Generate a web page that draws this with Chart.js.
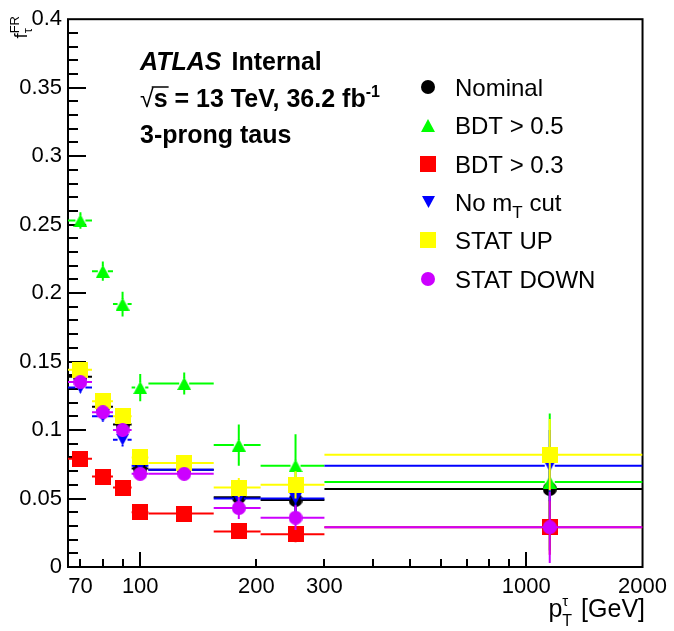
<!DOCTYPE html>
<html>
<head>
<meta charset="utf-8">
<script src="https://cdn.jsdelivr.net/npm/chart.js@4.4.1/dist/chart.umd.min.js"></script>
<style>
  html, body { margin: 0; padding: 0; background: #ffffff; }
  #wrap { width: 674px; height: 631px; }
</style>
</head>
<body>
<div id="wrap"><canvas id="c" width="674" height="631"></canvas></div>
<script>
// pT bins of the tau candidates [GeV]
const binLow  = [65, 75, 85, 95, 105, 155, 205, 300];
const binHigh = [75, 85, 95, 105, 155, 205, 300, 2000];

// fake-rate values and their statistical uncertainties per variation
const nominal     = [0.139, 0.117, 0.104, 0.072, 0.071, 0.051, 0.049, 0.057];
const nominalErr  = [0.004, 0.004, 0.005, 0.004, 0.004, 0.007, 0.010, 0.026];
const bdt05       = [0.253, 0.216, 0.192, 0.131, 0.134, 0.089, 0.074, 0.062];
const bdt05Err    = [0.006, 0.007, 0.009, 0.010, 0.008, 0.015, 0.023, 0.050];
const bdt03       = [0.079, 0.066, 0.058, 0.040, 0.039, 0.026, 0.024, 0.029];
const bdt03Err    = [0.003, 0.003, 0.004, 0.003, 0.003, 0.005, 0.006, 0.020];
const noMtCut     = [0.131, 0.110, 0.093, 0.074, 0.071, 0.050, 0.050, 0.074];
const noMtCutErr  = [0.004, 0.004, 0.005, 0.004, 0.004, 0.007, 0.010, 0.026];
const statUp      = [0.144, 0.121, 0.110, 0.080, 0.076, 0.058, 0.060, 0.082];
const statUpErr   = [0.004, 0.004, 0.005, 0.004, 0.004, 0.007, 0.010, 0.026];
const statDown    = [0.135, 0.113, 0.100, 0.068, 0.068, 0.043, 0.036, 0.029];
const statDownErr = [0.004, 0.004, 0.005, 0.004, 0.004, 0.008, 0.009, 0.026];

// axis ticks
const xTickValues = [70, 80, 90, 100, 200, 300, 400, 500, 600, 700, 800, 900, 1000, 2000];
const xTickLabels = ['70', '', '', '100', '200', '300', '', '', '', '', '', '', '1000', '2000'];
const xMajorTicks = [100, 1000];
const yTickValues = [0, 0.05, 0.1, 0.15, 0.2, 0.25, 0.3, 0.35, 0.4];
const yTickLabels = ['0', '0.05', '0.1', '0.15', '0.2', '0.25', '0.3', '0.35', '0.4'];

const FONT = "'Liberation Sans', Arial, Helvetica, sans-serif";
Chart.defaults.font.family = FONT;

// bin centres
const centers = binLow.map((lo, i) => (lo + binHigh[i]) / 2);

// marker glyphs
function makeMarker(shape, color, w, h) {
  const c = document.createElement('canvas');
  c.width = w; c.height = h;
  const g = c.getContext('2d');
  g.fillStyle = color;
  g.beginPath();
  if (shape === 'circle') {
    g.arc(w / 2, h / 2, Math.min(w, h) / 2, 0, Math.PI * 2);
  } else if (shape === 'square') {
    g.rect(0, 0, w, h);
  } else if (shape === 'up') {
    g.moveTo(w / 2, 0); g.lineTo(w, h); g.lineTo(0, h); g.closePath();
  } else if (shape === 'down') {
    g.moveTo(0, 0); g.lineTo(w, 0); g.lineTo(w / 2, h); g.closePath();
  }
  g.fill();
  return c;
}

const series = [
  { label: 'Nominal',   values: nominal,  errors: nominalErr,  color: '#000000', marker: makeMarker('circle', '#000000', 14, 14), gap: 6 },
  { label: 'BDT > 0.5', values: bdt05,    errors: bdt05Err,    color: '#00ff00', marker: makeMarker('up',     '#00ff00', 14, 13), gap: 5 },
  { label: 'BDT > 0.3', values: bdt03,    errors: bdt03Err,    color: '#ff0000', marker: makeMarker('square', '#ff0000', 16, 16), gap: 7 },
  { label: ['No m', 'T', ' cut'], values: noMtCut, errors: noMtCutErr, color: '#0000ff', marker: makeMarker('down', '#0000ff', 13, 12), gap: 5 },
  { label: 'STAT UP',   values: statUp,   errors: statUpErr,   color: '#ffff00', marker: makeMarker('square', '#ffff00', 16, 16), gap: 7 },
  { label: 'STAT DOWN', values: statDown, errors: statDownErr, color: '#cc00ff', marker: makeMarker('circle', '#cc00ff', 14, 14), gap: 6 }
];

function line(ctx, x1, y1, x2, y2) {
  ctx.beginPath(); ctx.moveTo(x1, y1); ctx.lineTo(x2, y2); ctx.stroke();
}

// draws a run of text pieces with their own size, style and vertical shift
function richText(ctx, parts, x, y, align) {
  const fontOf = p => (p.italic ? 'italic ' : '') + (p.bold ? 'bold ' : '') + p.size + 'px ' + FONT;
  let total = 0;
  const widths = parts.map(p => {
    ctx.font = fontOf(p);
    const w = ctx.measureText(p.t).width;
    if (!p.stack) total += w + (p.after || 0);
    return w;
  });
  let cx = align === 'right' ? x - total : x;
  ctx.textBaseline = 'alphabetic';
  ctx.textAlign = 'left';
  parts.forEach((p, i) => {
    ctx.font = fontOf(p);
    ctx.fillText(p.t, cx, y + (p.dy || 0));
    if (p.overline) {
      ctx.save();
      ctx.lineWidth = 1.5;
      ctx.strokeStyle = ctx.fillStyle;
      line(ctx, cx + p.overline[0], y + p.overline[1], cx + widths[i] + 1, y + p.overline[1]);
      ctx.restore();
    }
    if (!p.stack) cx += widths[i] + (p.after || 0);
  });
}

// error bars drawn beneath each series' own markers
const errorBars = {
  id: 'errorBars',
  beforeDatasetDraw(chart, args) {
    const s = series[args.index];
    const { ctx, chartArea: a } = chart;
    const xs = chart.scales.x, ys = chart.scales.y;
    ctx.save();
    ctx.beginPath();
    ctx.rect(a.left, a.top, a.right - a.left, a.bottom - a.top);
    ctx.clip();
    ctx.strokeStyle = s.color;
    ctx.lineWidth = 2;
    s.values.forEach((v, j) => {
      const x = xs.getPixelForValue(centers[j]);
      const y = ys.getPixelForValue(v);
      const xl = xs.getPixelForValue(binLow[j]);
      const xh = xs.getPixelForValue(binHigh[j]);
      const yt = ys.getPixelForValue(v + s.errors[j]);
      const yb = ys.getPixelForValue(v - s.errors[j]);
      if (x - s.gap > xl) line(ctx, xl, y, x - s.gap, y);
      if (x + s.gap < xh) line(ctx, x + s.gap, y, xh, y);
      if (y - s.gap > yt) line(ctx, x, yt, x, y - s.gap);
      if (y + s.gap < yb) line(ctx, x, y + s.gap, x, yb);
    });
    ctx.restore();
  }
};

// frame with inward tick marks
const frame = {
  id: 'frame',
  beforeDatasetsDraw(chart) {
    const { ctx, chartArea: a } = chart;
    const xs = chart.scales.x, ys = chart.scales.y;
    ctx.save();
    ctx.strokeStyle = '#000000';
    ctx.lineWidth = 2;
    ctx.strokeRect(a.left, a.top, a.right - a.left, a.bottom - a.top);
    for (let k = 1; k < 40; k++) {
      const y = Math.round(ys.getPixelForValue(k / 100));
      const len = k % 5 === 0 ? 18 : 10;
      line(ctx, a.left, y, a.left + len, y);
    }
    xTickValues.forEach(v => {
      const x = Math.round(xs.getPixelForValue(v));
      if (x >= a.right - 1) return;
      const len = xMajorTicks.includes(v) ? 15 : 8;
      line(ctx, x, a.bottom, x, a.bottom - len);
    });
    ctx.restore();
  }
};

// labels, legend and axis titles
const annotations = {
  id: 'annotations',
  afterDraw(chart) {
    const { ctx } = chart;
    ctx.save();
    ctx.fillStyle = '#000000';

    ctx.font = 'italic bold 25px ' + FONT;
    const atlasW = ctx.measureText('ATLAS').width;
    richText(ctx, [{ t: 'ATLAS', size: 25, bold: true, italic: true, after: 10 }, { t: 'Internal', size: 25, bold: true }], 140, 70, 'left');
    richText(ctx, [
      { t: '\u221A', size: 25, bold: false, after: 0 },
      { t: 's', size: 25, bold: true, overline: [-2, -20] },
      { t: ' = 13 TeV, 36.2 fb', size: 25, bold: true },
      { t: '-1', size: 16, bold: true, dy: -10 }
    ], 140, 107, 'left');
    richText(ctx, [{ t: '3-prong taus', size: 25, bold: true }], 140, 143, 'left');

    // legend
    series.forEach((s, i) => {
      const yc = 87 + i * 38.3;
      ctx.drawImage(s.marker, Math.round(428 - s.marker.width / 2), Math.round(yc - s.marker.height / 2));
      if (Array.isArray(s.label)) {
        richText(ctx, [
          { t: s.label[0], size: 24 },
          { t: s.label[1], size: 17, dy: 7 },
          { t: s.label[2], size: 24 }
        ], 455, yc + 9, 'left');
      } else {
        richText(ctx, [{ t: s.label, size: 24 }], 455, yc + 9, 'left');
      }
    });

    // x-axis title
    richText(ctx, [
      { t: 'p', size: 25 },
      { t: '\u03C4', size: 15, dy: -11, stack: true },
      { t: 'T', size: 16, dy: 9, after: 2 },
      { t: ' [GeV]', size: 25 }
    ], 645, 617, 'right');

    // y-axis title, rotated along the axis and ending at its top
    ctx.save();
    ctx.translate(27, 16);
    ctx.rotate(-Math.PI / 2);
    richText(ctx, [
      { t: 'f', size: 19 },
      { t: '\u03C4', size: 13, dy: 5, stack: true },
      { t: 'FR', size: 13, dy: -8 }
    ], 0, 0, 'right');
    ctx.restore();

    ctx.restore();
  }
};

new Chart(document.getElementById('c'), {
  type: 'scatter',
  data: {
    datasets: series.map((s, i) => ({
      label: Array.isArray(s.label) ? s.label.join('') : s.label,
      data: centers.map((x, j) => ({ x: x, y: s.values[j] })),
      pointStyle: s.marker,
      pointRadius: 7,
      pointHoverRadius: 7,
      backgroundColor: s.color,
      borderColor: s.color,
      order: series.length - i
    }))
  },
  options: {
    responsive: false,
    animation: false,
    devicePixelRatio: 1,
    events: [],
    layout: { padding: { top: 16, right: 29, left: 0, bottom: 0 } },
    plugins: { legend: { display: false }, tooltip: { enabled: false } },
    scales: {
      x: {
        type: 'logarithmic',
        min: 65,
        max: 2000,
        grid: { display: false, drawTicks: false },
        border: { display: false },
        afterBuildTicks: s => { s.ticks = xTickValues.map(v => ({ value: v })); },
        afterFit: s => { s.height = 64; },
        ticks: {
          autoSkip: false, maxRotation: 0, minRotation: 0, padding: 7,
          color: '#000000', font: { size: 22 },
          callback: (v, i) => xTickLabels[i]
        }
      },
      y: {
        min: 0,
        max: 0.4,
        grid: { display: false, drawTicks: false },
        border: { display: false },
        afterBuildTicks: s => { s.ticks = yTickValues.map(v => ({ value: v })); },
        afterFit: s => { s.width = 68; },
        ticks: {
          padding: 6, color: '#000000', font: { size: 22 },
          callback: (v, i) => yTickLabels[i]
        }
      }
    }
  },
  plugins: [frame, errorBars, annotations]
});
</script>
</body>
</html>
